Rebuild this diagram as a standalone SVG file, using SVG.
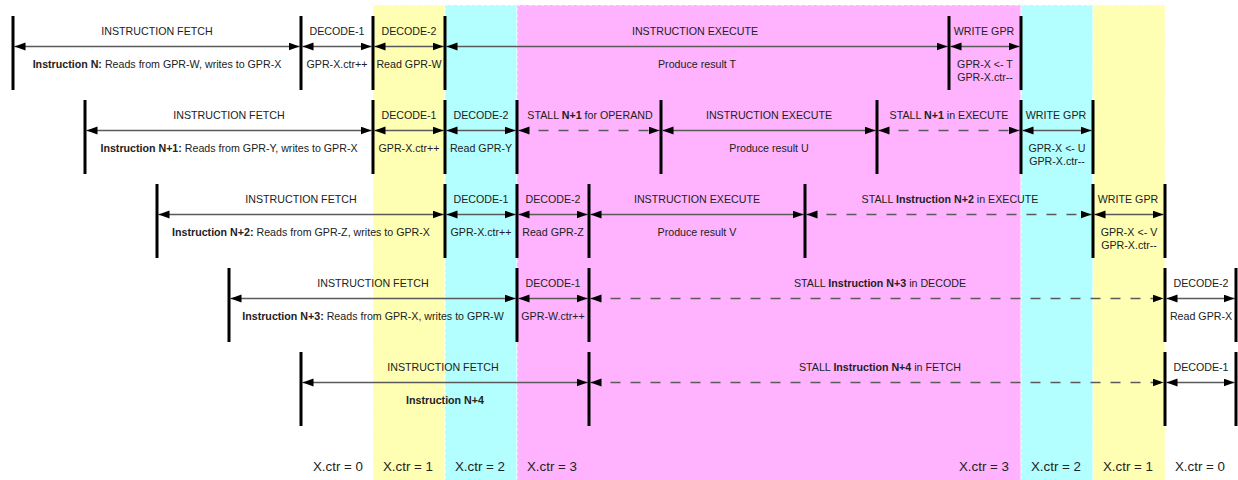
<svg xmlns="http://www.w3.org/2000/svg" width="1238" height="480" viewBox="0 0 1238 480">
<style>
text{font-family:"Liberation Sans",Arial,sans-serif;fill:#222;text-anchor:middle}
.l{font-size:10.67px}
.b{font-weight:bold}
.x{font-size:13.33px}
.bar{stroke:#000;stroke-width:3}
.ar{stroke:#5a5a5a;stroke-width:1.6;fill:none;marker-start:url(#ah);marker-end:url(#ah)}
.d{stroke-dasharray:10,10}
.band{stroke:#fff;stroke-width:1;stroke-dasharray:3,3}
</style>
<defs>
<marker id="ah" markerUnits="userSpaceOnUse" markerWidth="12" markerHeight="9" refX="11" refY="4" orient="auto-start-reverse">
<path d="M0,0 L11,4 L0,8 z" fill="#000"/>
</marker>
</defs>
<rect width="1238" height="480" fill="#fff"/>
<g id="bands">
<rect class="band" x="373" y="5" width="72" height="480" fill="#FFFFB3"/>
<rect class="band" x="445" y="5" width="72" height="480" fill="#B3FFFF"/>
<rect class="band" x="517" y="5" width="504" height="480" fill="#FFB3FF"/>
<rect class="band" x="1021" y="5" width="72" height="480" fill="#B3FFFF"/>
<rect class="band" x="1093" y="5" width="72" height="480" fill="#FFFFB3"/>
</g>
<g id="connectors">
<line class="ar" x1="14.5" y1="46.5" x2="299.5" y2="46.5"/>
<line class="ar" x1="302.5" y1="46.5" x2="371.5" y2="46.5"/>
<line class="ar" x1="374.5" y1="46.5" x2="443.5" y2="46.5"/>
<line class="ar" x1="446.5" y1="46.5" x2="947.5" y2="46.5"/>
<line class="ar" x1="950.5" y1="46.5" x2="1019.5" y2="46.5"/>

<line class="ar" x1="86.5" y1="130.5" x2="371.5" y2="130.5"/>
<line class="ar" x1="374.5" y1="130.5" x2="443.5" y2="130.5"/>
<line class="ar" x1="446.5" y1="130.5" x2="515.5" y2="130.5"/>
<line class="ar d" x1="518.5" y1="130.5" x2="659.5" y2="130.5"/>
<line class="ar" x1="662.5" y1="130.5" x2="875.5" y2="130.5"/>
<line class="ar d" x1="878.5" y1="130.5" x2="1019.5" y2="130.5"/>
<line class="ar" x1="1022.5" y1="130.5" x2="1091.5" y2="130.5"/>

<line class="ar" x1="158.5" y1="214.5" x2="443.5" y2="214.5"/>
<line class="ar" x1="446.5" y1="214.5" x2="515.5" y2="214.5"/>
<line class="ar" x1="518.5" y1="214.5" x2="587.5" y2="214.5"/>
<line class="ar" x1="590.5" y1="214.5" x2="803.5" y2="214.5"/>
<line class="ar d" x1="806.5" y1="214.5" x2="1091.5" y2="214.5"/>
<line class="ar" x1="1094.5" y1="214.5" x2="1163.5" y2="214.5"/>

<line class="ar" x1="230.5" y1="298.5" x2="515.5" y2="298.5"/>
<line class="ar" x1="518.5" y1="298.5" x2="587.5" y2="298.5"/>
<line class="ar d" x1="590.5" y1="298.5" x2="1163.5" y2="298.5"/>
<line class="ar" x1="1166.5" y1="298.5" x2="1234.5" y2="298.5"/>

<line class="ar" x1="302.5" y1="382.5" x2="587.5" y2="382.5"/>
<line class="ar d" x1="590.5" y1="382.5" x2="1163.5" y2="382.5"/>
<line class="ar" x1="1166.5" y1="382.5" x2="1234.5" y2="382.5"/>
</g>
<g id="bars">
<path class="bar" d="M13,16V90M301,16V90M373,16V90M445,16V90M949,16V90M1021,16V90"/>
<path class="bar" d="M85,100V174M373,100V174M445,100V174M517,100V174M661,100V174M877,100V174M1021,100V174M1093,100V174"/>
<path class="bar" d="M157,184V258M445,184V258M517,184V258M589,184V258M805,184V258M1093,184V258M1165,184V258"/>
<path class="bar" d="M229,268V342M517,268V342M589,268V342M1165,268V342M1236,268V342"/>
<path class="bar" d="M301,352V426M589,352V426M1165,352V426M1236,352V426"/>
</g>
<g id="instr-n">
<g id="n-fetch"><text class="l" x="157" y="35">INSTRUCTION FETCH</text><text class="l" x="157" y="68"><tspan class="b">Instruction N:</tspan> Reads from GPR-W, writes to GPR-X</text></g>
<g id="n-dec1"><text class="l" x="337" y="35">DECODE-1</text><text class="l" x="337" y="68">GPR-X.ctr++</text></g>
<g id="n-dec2"><text class="l" x="409" y="35">DECODE-2</text><text class="l" x="409" y="68">Read GPR-W</text></g>
<g id="n-exec"><text class="l" x="695" y="35">INSTRUCTION EXECUTE</text><text class="l" x="697" y="68">Produce result T</text></g>
<g id="n-write"><text class="l" x="984" y="35">WRITE GPR</text><text class="l" x="985" y="68">GPR-X &lt;- T</text><text class="l" x="985" y="81">GPR-X.ctr--</text></g>
</g>
<g id="instr-n1">
<g id="n1-fetch"><text class="l" x="229" y="119">INSTRUCTION FETCH</text><text class="l" x="229" y="152"><tspan class="b">Instruction N+1:</tspan> Reads from GPR-Y, writes to GPR-X</text></g>
<g id="n1-dec1"><text class="l" x="409" y="119">DECODE-1</text><text class="l" x="409" y="152">GPR-X.ctr++</text></g>
<g id="n1-dec2"><text class="l" x="481" y="119">DECODE-2</text><text class="l" x="481" y="152">Read GPR-Y</text></g>
<g id="n1-stall1"><text class="l" x="590" y="119">STALL <tspan class="b">N+1</tspan> for OPERAND</text></g>
<g id="n1-exec"><text class="l" x="769" y="119">INSTRUCTION EXECUTE</text><text class="l" x="769" y="152">Produce result U</text></g>
<g id="n1-stall2"><text class="l" x="949" y="119">STALL <tspan class="b">N+1</tspan> in EXECUTE</text></g>
<g id="n1-write"><text class="l" x="1056" y="119">WRITE GPR</text><text class="l" x="1057" y="152">GPR-X &lt;- U</text><text class="l" x="1057" y="165">GPR-X.ctr--</text></g>
</g>
<g id="instr-n2">
<g id="n2-fetch"><text class="l" x="301" y="203">INSTRUCTION FETCH</text><text class="l" x="301" y="236"><tspan class="b">Instruction N+2:</tspan> Reads from GPR-Z, writes to GPR-X</text></g>
<g id="n2-dec1"><text class="l" x="481" y="203">DECODE-1</text><text class="l" x="481" y="236">GPR-X.ctr++</text></g>
<g id="n2-dec2"><text class="l" x="553" y="203">DECODE-2</text><text class="l" x="553" y="236">Read GPR-Z</text></g>
<g id="n2-exec"><text class="l" x="697" y="203">INSTRUCTION EXECUTE</text><text class="l" x="697" y="236">Produce result V</text></g>
<g id="n2-stall"><text class="l" x="950" y="203">STALL <tspan class="b">Instruction N+2</tspan> in EXECUTE</text></g>
<g id="n2-write"><text class="l" x="1128" y="203">WRITE GPR</text><text class="l" x="1129" y="236">GPR-X &lt;- V</text><text class="l" x="1129" y="249">GPR-X.ctr--</text></g>
</g>
<g id="instr-n3">
<g id="n3-fetch"><text class="l" x="373" y="287">INSTRUCTION FETCH</text><text class="l" x="373" y="320"><tspan class="b">Instruction N+3:</tspan> Reads from GPR-X, writes to GPR-W</text></g>
<g id="n3-dec1"><text class="l" x="553" y="287">DECODE-1</text><text class="l" x="553" y="320">GPR-W.ctr++</text></g>
<g id="n3-stall"><text class="l" x="880" y="287">STALL <tspan class="b">Instruction N+3</tspan> in DECODE</text></g>
<g id="n3-dec2"><text class="l" x="1201" y="287">DECODE-2</text><text class="l" x="1201" y="320">Read GPR-X</text></g>
</g>
<g id="instr-n4">
<g id="n4-fetch"><text class="l" x="443" y="371">INSTRUCTION FETCH</text><text class="l b" x="445" y="404">Instruction N+4</text></g>
<g id="n4-stall"><text class="l" x="880" y="371">STALL <tspan class="b">Instruction N+4</tspan> in FETCH</text></g>
<g id="n4-dec1"><text class="l" x="1201" y="371">DECODE-1</text></g>
</g>
<g id="counters">
<text class="x" x="338" y="471">X.ctr = 0</text>
<text class="x" x="408" y="471">X.ctr = 1</text>
<text class="x" x="480" y="471">X.ctr = 2</text>
<text class="x" x="552" y="471">X.ctr = 3</text>
<text class="x" x="984" y="471">X.ctr = 3</text>
<text class="x" x="1056" y="471">X.ctr = 2</text>
<text class="x" x="1128" y="471">X.ctr = 1</text>
<text class="x" x="1200" y="471">X.ctr = 0</text>
</g>
</svg>
